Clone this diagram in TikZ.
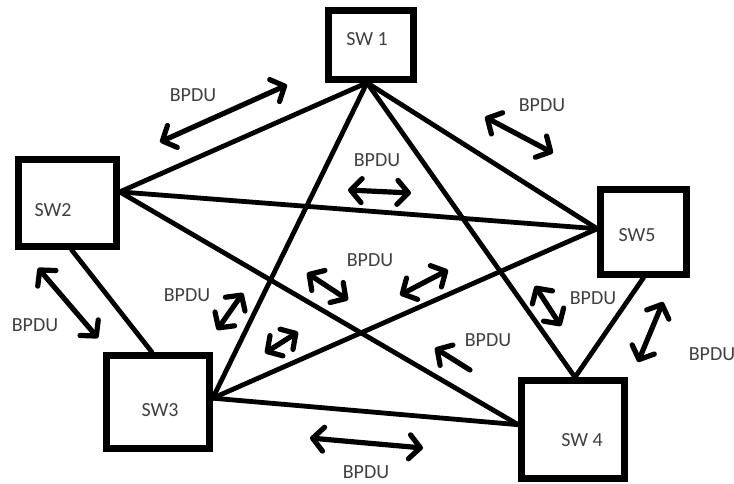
\documentclass[tikz,border=0pt]{standalone}
\usepackage{fontspec}
\setmainfont{Carlito}
\usetikzlibrary{arrows.meta}
\definecolor{labelGray}{HTML}{404040}

\begin{document}
\begin{tikzpicture}[x=1pt, y=-1pt,
    >={Straight Barb[length=11pt, width=24pt, round]},
    swBox/.style={draw, line width=6.5pt, inner sep=0pt},
    swLabel/.style={text=labelGray, font=\fontsize{20}{24}\selectfont, inner sep=0pt},
    bpduLabel/.style={text=labelGray, font=\fontsize{20}{24}\selectfont, inner sep=0pt},
    link/.style={line width=4.8pt, line cap=round},
    bpduArrow/.style={<->, line width=5.2pt, line cap=round},
    bpduPush/.style={->, line width=5.2pt, line cap=round}]
    \useasboundingbox (0,0) rectangle (734,484);

    \node[swBox, minimum width=85pt, minimum height=69pt] (sw1) at (371,45) {};
    \node[swBox, minimum width=98pt, minimum height=87pt] (sw2) at (67.5,203) {};
    \node[swBox, minimum width=103pt, minimum height=93pt] (sw3) at (158,402) {};
    \node[swBox, minimum width=103pt, minimum height=98pt] (sw4) at (573,429.5) {};
    \node[swBox, minimum width=86pt, minimum height=85pt] (sw5) at (643.5,232) {};

    \node[swLabel] (sw1Text) at (367,39) {SW 1};
    \node[swLabel] (sw2Text) at (53,210) {SW2};
    \node[swLabel] (sw3Text) at (160,410) {SW3};
    \node[swLabel] (sw4Text) at (582,440) {SW 4};
    \node[swLabel] (sw5Text) at (637,235) {SW5};

    \draw[link] ([xshift=-4pt]sw1.south) -- (sw2.12);
    \draw[link] ([xshift=-4pt]sw1.south) -- (sw5.176);
    \draw[link] ([xshift=-4pt]sw1.south) -- (sw3.4);
    \draw[link] ([xshift=-4pt]sw1.south) -- ([xshift=2pt]sw4.north);
    \draw[link] (sw2.12) -- (sw5.176);
    \draw[link] (sw2.12) -- (sw4.175);
    \draw[link] ([xshift=4pt]sw2.south) -- ([xshift=-6pt]sw3.north);
    \draw[link] (sw3.4) -- (sw5.176);
    \draw[link] (sw3.4) -- (sw4.175);
    \draw[link] (sw5.south) -- ([xshift=2pt]sw4.north);

    \foreach \n/\s/\t in {1/{160,142}/{287,85}, 2/{485,117}/{553,153},
        3/{348,190}/{411,193}, 4/{307,273}/{348,300}, 5/{400,295}/{448,270},
        6/{217,330}/{243,293}, 7/{265,353}/{298,332}, 8/{535,286}/{561,326},
        9/{638,362}/{663,302}, 10/{310,438}/{423,448}, 11/{38,268}/{98,338}} {
        \coordinate (tail\n) at (\s);
        \coordinate (tip\n) at (\t);
        \draw[bpduArrow] (tail\n) -- (tip\n);
    }
    \coordinate (tail12) at (470,370);
    \coordinate (tip12) at (435,348);
    \draw[bpduPush] (tail12) -- (tip12);

    \node[bpduLabel] (bpdu1) at (193,95) {BPDU};
    \node[bpduLabel] (bpdu2) at (542,105) {BPDU};
    \node[bpduLabel] (bpdu3) at (377,160) {BPDU};
    \node[bpduLabel] (bpdu4) at (370,260) {BPDU};
    \node[bpduLabel] (bpdu5) at (187,295) {BPDU};
    \node[bpduLabel] (bpdu6) at (593,298) {BPDU};
    \node[bpduLabel] (bpdu7) at (488,340) {BPDU};
    \node[bpduLabel] (bpdu8) at (712,354) {BPDU};
    \node[bpduLabel] (bpdu9) at (366,472) {BPDU};
    \node[bpduLabel] (bpdu10) at (35,325) {BPDU};
\end{tikzpicture}
\end{document}
